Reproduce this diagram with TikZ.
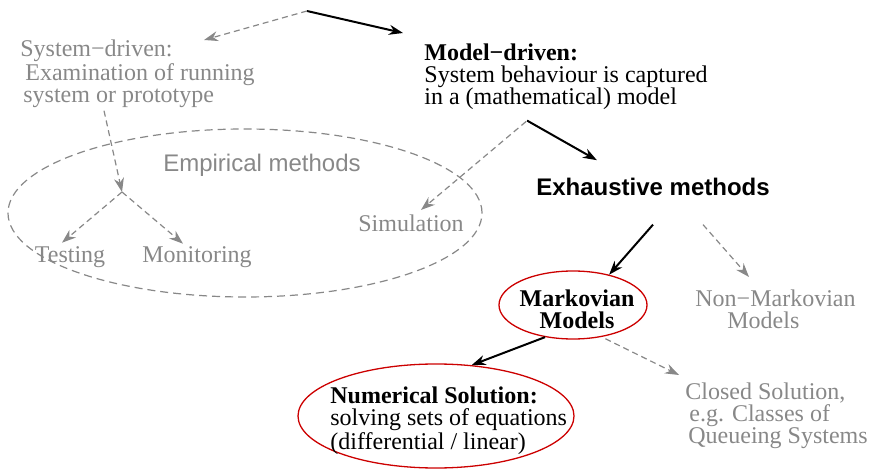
\documentclass[tikz,border=0pt]{standalone}
\usepackage{fontspec}
\setmainfont{Liberation Serif}
\setsansfont{Liberation Sans}
\usetikzlibrary{arrows.meta,shapes.geometric}

\definecolor{figgray}{RGB}{136,136,136}
\definecolor{figred}{RGB}{204,0,0}
\newcommand\figfont{\fontsize{12}{11}\selectfont}

\begin{document}
\begin{tikzpicture}[
  x=0.5pt, y=-0.5pt,
  every node/.style={inner sep=0pt,font=\figfont},
  greytext/.style={text=figgray},
  blocktext/.style={align=left,anchor=north west},
  ring/.style={ellipse,draw=figred,line width=0.65pt,inner sep=0pt},
  dashring/.style={ellipse,draw=figgray,line width=0.6pt,
                   dash pattern=on 4pt off 2.5pt,inner sep=0pt},
  mainarrow/.style={-{Stealth[length=7pt,width=5pt]},line width=1pt},
  sidearrow/.style={-{Stealth[length=7pt,width=5pt]},draw=figgray,
                    line width=0.6pt,dash pattern=on 3pt off 2pt}
]
\useasboundingbox (0,0) rectangle (871,469);

% ellipses round the groups
\node[dashring,minimum width=237pt,minimum height=84pt] (empirell) at (245,213) {};
\node[ring,minimum width=74pt,minimum height=34pt] (markovell) at (573,305) {};
\node[ring,minimum width=138pt,minimum height=52pt] (numell) at (436,416) {};

\coordinate (root) at (307,11);
\coordinate (fork) at (122,192);

\node[blocktext,greytext] (sysdrv) at (20,39)
  {System−driven:\\\hspace*{2.5pt}Examination of running\\\hspace*{1.5pt}system or prototype};
\node[blocktext] (modeldrv) at (424,43)
  {\textbf{Model−driven:}\\System behaviour is captured\\in a (mathematical) model};
\node[greytext,font=\figfont\sffamily,anchor=base] (empir) at (262,172) {Empirical methods};
\node[greytext,anchor=base] (testing) at (70,263) {Testing};
\node[greytext,anchor=base] (monitoring) at (197,263) {Monitoring};
\node[greytext,anchor=base] (simulation) at (411,232) {Simulation};
\node[font=\figfont\sffamily\bfseries,anchor=base] (exhaust) at (653,196) {Exhaustive methods};
\node[font=\figfont\bfseries,align=center,anchor=north] (markov) at (577,289) {Markovian\\Models};
\node[blocktext,greytext] (nonmarkov) at (695,289) {Non−Markovian\\\hspace*{16pt}Models};
\node[blocktext] (numer) at (330,386)
  {\textbf{Numerical Solution:}\\solving sets of equations\\(differential / linear)};
\node[blocktext,greytext] (closed) at (685,382)
  {Closed Solution,\\\hspace*{2pt}e.g. Classes of\\\hspace*{1.5pt}Queueing Systems};

\draw[mainarrow] (root) -- ([xshift=-10.5pt,yshift=5pt]modeldrv.north west);
\draw[sidearrow] (root) -- ([xshift=-25.5pt,yshift=-0.5pt]sysdrv.north east);
\draw[sidearrow] ([xshift=42pt,yshift=-1.5pt]sysdrv.south west) -- (fork);
\draw[sidearrow] (fork) -- ([xshift=-4pt,yshift=2pt]testing.north);
\draw[sidearrow] (fork) -- ([xshift=-7pt,yshift=1.5pt]monitoring.north);
\draw[sidearrow] ([xshift=-20pt,yshift=-6pt]modeldrv.south)
  -- ([xshift=5pt,yshift=2.5pt]simulation.north);
\draw[mainarrow] ([xshift=-19.5pt,yshift=-5.5pt]modeldrv.south)
  -- ([xshift=30.5pt,yshift=9pt]exhaust.north west);
\draw[mainarrow] ([yshift=-14pt]exhaust.south) -- (markovell.40);
\draw[sidearrow] ([xshift=25pt,yshift=-14pt]exhaust.south)
  -- ([xshift=27pt,yshift=6pt]nonmarkov.north west);
\draw[mainarrow] (markovell.229) -- (numell.55);
\draw[sidearrow,shorten <=2pt] (markovell.-48)
  -- ([xshift=-3pt,yshift=3.5pt]closed.north west);
\end{tikzpicture}
\end{document}
